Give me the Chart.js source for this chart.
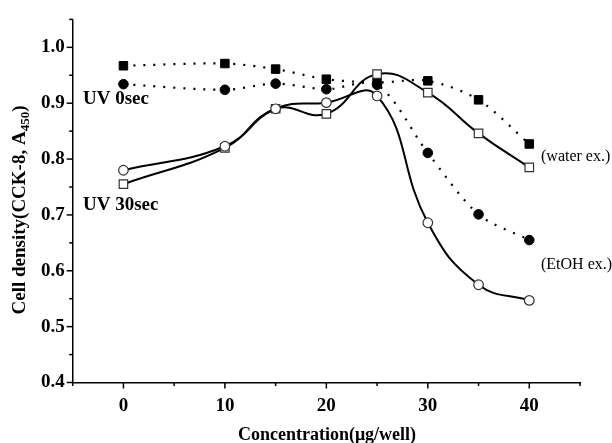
<!DOCTYPE html>
<html lang="en">
<head>
  <meta charset="UTF-8">
  <title>Cell density vs concentration</title>
  <script src="https://cdn.jsdelivr.net/npm/chart.js"></script>
  <style>
    body { margin: 0; background: #fff; }
    #wrap { width: 612px; height: 443px; }
  </style>
</head>
<body>
<div id="wrap"><canvas id="chart" width="612" height="443"></canvas></div>
<script>
  // data
  const conc = [0, 10, 15, 20, 25, 30, 35, 40];
  const water0 = [0.967, 0.971, 0.961, 0.943, 0.937, 0.940, 0.906, 0.827];
  const etoh0 = [0.934, 0.924, 0.935, 0.925, 0.933, 0.811, 0.701, 0.655];
  const water30 = [0.755, 0.820, 0.890, 0.881, 0.952, 0.919, 0.846, 0.785];
  const etoh30 = [0.780, 0.823, 0.890, 0.901, 0.913, 0.686, 0.575, 0.547];
  const xTicks = [-5, 0, 5, 10, 15, 20, 25, 30, 35, 40, 45];
  const yTicks = [0.4, 0.45, 0.5, 0.55, 0.6, 0.65, 0.7, 0.75, 0.8, 0.85, 0.9, 0.95, 1.0, 1.05];

  const serif = "'Liberation Serif', 'Times New Roman', serif";

  function pts(ys) {
    return conc.map((x, i) => ({ x: x, y: ys[i] }));
  }

  // tick marks, text labels and axis titles
  const decor = {
    id: 'decor',
    afterDraw(chart) {
      const ctx = chart.ctx;
      const xs = chart.scales.x, ys = chart.scales.y;
      ctx.save();
      ctx.strokeStyle = '#000';
      ctx.lineWidth = 1.5;
      xTicks.forEach(v => {
        const px = xs.getPixelForValue(v);
        const len = v % 10 === 0 ? 6 : 3.5;
        ctx.beginPath();
        ctx.moveTo(px, ys.bottom);
        ctx.lineTo(px, ys.bottom + len);
        ctx.stroke();
      });
      yTicks.forEach(v => {
        const py = ys.getPixelForValue(v);
        const major = Math.abs(v * 10 - Math.round(v * 10)) < 1e-6;
        const len = major ? 6 : 3.5;
        ctx.beginPath();
        ctx.moveTo(xs.left, py);
        ctx.lineTo(xs.left - len, py);
        ctx.stroke();
      });

      ctx.fillStyle = '#000';
      ctx.textBaseline = 'middle';
      ctx.textAlign = 'left';
      ctx.font = 'bold 19px ' + serif;
      ctx.fillText('UV 0sec', 83, 99);
      ctx.fillText('UV 30sec', 83, 205);
      ctx.font = '16px ' + serif;
      ctx.fillText('(water ex.)', 541, 157);
      ctx.fillText('(EtOH ex.)', 541, 265);

      // x title
      ctx.font = 'bold 18px ' + serif;
      ctx.textAlign = 'center';
      ctx.textBaseline = 'alphabetic';
      ctx.fillText('Concentration(\u03bcg/well)', 327, 440);

      // y title with subscript
      const main = 'Cell density(CCK-8, A', sub = '450', close = ')';
      const big = 'bold 19px ' + serif, small = 'bold 13px ' + serif;
      ctx.font = big;
      const w1 = ctx.measureText(main).width, w3 = ctx.measureText(close).width;
      ctx.font = small;
      const w2 = ctx.measureText(sub).width;
      const total = w1 + w2 + w3;
      ctx.translate(25, 210);
      ctx.rotate(-Math.PI / 2);
      ctx.textAlign = 'left';
      let x0 = -total / 2;
      ctx.font = big;
      ctx.fillText(main, x0, 0);
      ctx.font = small;
      ctx.fillText(sub, x0 + w1, 4);
      ctx.font = big;
      ctx.fillText(close, x0 + w1 + w2, 0);
      ctx.restore();
    }
  };

  const solid = { borderColor: '#000', borderWidth: 2, tension: 0.45 };
  const dotted = { borderColor: '#000', borderWidth: 2.2, borderDash: [2, 8], tension: 0.3 };

  new Chart(document.getElementById('chart'), {
    type: 'scatter',
    data: {
      datasets: [
        Object.assign({ label: 'EtOH UV30', data: pts(etoh30), showLine: true, pointStyle: 'circle', pointRadius: 4.8,
          pointBackgroundColor: '#fff', pointBorderColor: '#333', pointBorderWidth: 1.2 }, solid),
        Object.assign({ label: 'water UV30', data: pts(water30), showLine: true, pointStyle: 'rect', pointRadius: 6,
          pointBackgroundColor: '#fff', pointBorderColor: '#333', pointBorderWidth: 1.2 }, solid),
        Object.assign({ label: 'EtOH UV0', data: pts(etoh0), showLine: true, pointStyle: 'circle', pointRadius: 4.8,
          pointBackgroundColor: '#000', pointBorderColor: '#000', pointBorderWidth: 1 }, dotted),
        Object.assign({ label: 'water UV0', data: pts(water0), showLine: true, pointStyle: 'rect', pointRadius: 6,
          pointBackgroundColor: '#000', pointBorderColor: '#000', pointBorderWidth: 1 }, dotted)
      ]
    },
    options: {
      responsive: false,
      animation: false,
      layout: { padding: { left: 0, top: 10, right: 32, bottom: 0 } },
      plugins: { legend: { display: false }, tooltip: { enabled: false } },
      scales: {
        x: {
          type: 'linear', min: -5, max: 45,
          afterBuildTicks: s => { s.ticks = xTicks.map(v => ({ value: v })); },
          afterFit: s => { s.height = 60.5; },
          grid: { display: true, drawOnChartArea: false, drawTicks: false },
          border: { display: true, color: '#000', width: 1.5 },
          ticks: {
            padding: 12, color: '#000', maxRotation: 0, autoSkip: false,
            font: { family: serif, size: 19, weight: 'bold' },
            callback: v => (v % 10 === 0 && v >= 0 && v <= 40) ? String(v) : ''
          }
        },
        y: {
          type: 'linear', min: 0.4, max: 1.05,
          afterBuildTicks: s => { s.ticks = yTicks.map(v => ({ value: v })); },
          afterFit: s => { s.width = 72.7; },
          grid: { display: true, drawOnChartArea: false, drawTicks: false },
          border: { display: true, color: '#000', width: 1.5 },
          ticks: {
            padding: 8, color: '#000', autoSkip: false,
            font: { family: serif, size: 19, weight: 'bold' },
            callback: v => {
              const r = Math.round(v * 10) / 10;
              return (Math.abs(v - r) < 1e-6 && v <= 1.0001) ? r.toFixed(1) : '';
            }
          }
        }
      }
    },
    plugins: [decor]
  });
</script>
</body>
</html>
